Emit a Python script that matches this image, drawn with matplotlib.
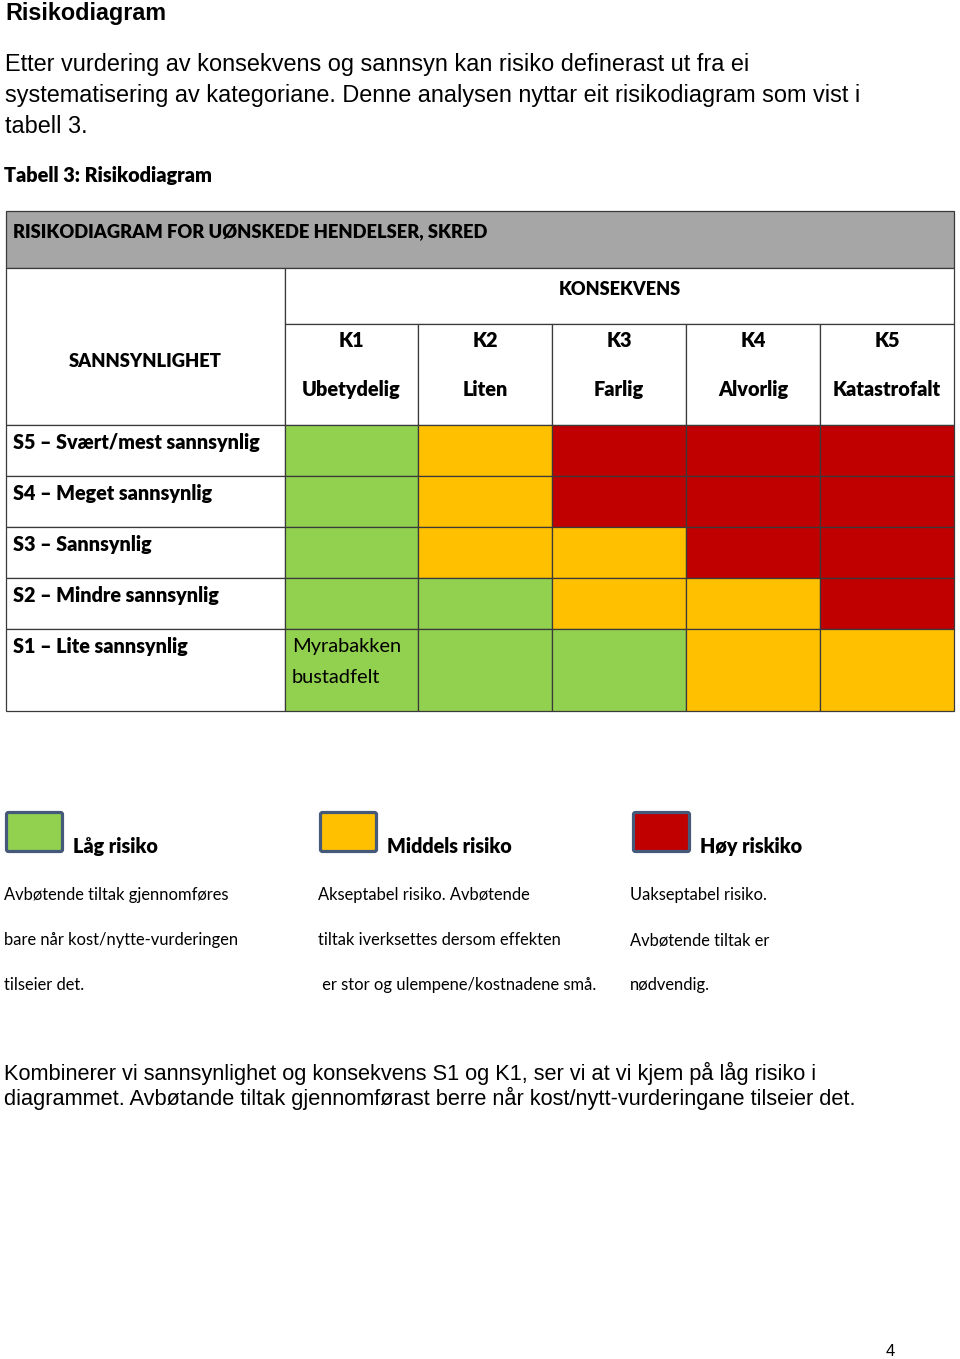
import matplotlib
matplotlib.use("Agg")
import matplotlib.pyplot as plt
from matplotlib.patches import Rectangle, FancyBboxPatch

# ---------------- data ----------------
title = "Risikodiagram"
intro_lines = [
    "Etter vurdering av konsekvens og sannsyn kan risiko definerast ut fra ei",
    "systematisering av kategoriane. Denne analysen nyttar eit risikodiagram som vist i",
    "tabell 3.",
]
table_caption = "Tabell 3: Risikodiagram"
table_header = "RISIKODIAGRAM FOR UØNSKEDE HENDELSER, SKRED"
axis_cons = "KONSEKVENS"
axis_prob = "SANNSYNLIGHET"
cons_codes = ["K1", "K2", "K3", "K4", "K5"]
cons_names = ["Ubetydelig", "Liten", "Farlig", "Alvorlig", "Katastrofalt"]
prob_labels = ["S5 – Svært/mest sannsynlig", "S4 – Meget sannsynlig",
               "S3 – Sannsynlig", "S2 – Mindre sannsynlig", "S1 – Lite sannsynlig"]
# risk level per cell: 0 = låg, 1 = middels, 2 = høy  (rows S5..S1, cols K1..K5)
risk_matrix = [
    [0, 1, 2, 2, 2],
    [0, 1, 2, 2, 2],
    [0, 1, 1, 2, 2],
    [0, 0, 1, 1, 2],
    [0, 0, 0, 1, 1],
]
marked_cell = (4, 0)
marked_text = ["Myrabakken", "bustadfelt"]
level_colors = ["#92d050", "#ffc000", "#c00000"]
legend_titles = ["Låg risiko", "Middels risiko", "Høy riskiko"]
legend_texts = [
    ["Avbøtende tiltak gjennomføres", "bare når kost/nytte-vurderingen", "tilseier det."],
    ["Akseptabel risiko. Avbøtende", "tiltak iverksettes dersom effekten", " er stor og ulempene/kostnadene små."],
    ["Uakseptabel risiko.", "Avbøtende tiltak er", "nødvendig."],
]
outro_lines = [
    "Kombinerer vi sannsynlighet og konsekvens S1 og K1, ser vi at vi kjem på låg risiko i",
    "diagrammet. Avbøtande tiltak gjennomførast berre når kost/nytt-vurderingane tilseier det.",
]
page_number = "4"

# ---------------- layout ----------------
W, H = 960, 1359
fig = plt.figure(figsize=(W / 100, H / 100), dpi=100)
ax = fig.add_axes([0, 0, 1, 1])
ax.set_xlim(0, W)
ax.set_ylim(H, 0)
ax.axis("off")

ARIAL = "Liberation Sans"
CAL = "Lato"
BW = "heavy"
line_c = "#3a3a3a"
lw = 0.9

ax.text(5, 20, title, fontsize=16.8, fontweight="bold", family=ARIAL, va="baseline")
for i, t in enumerate(intro_lines):
    ax.text(5, 71 + 31 * i, t, fontsize=16.9, family=ARIAL, va="baseline")
ax.text(4, 182, table_caption, fontsize=14.3, fontweight=BW, family=CAL, va="baseline")

# table geometry
xl, xr = 6, 954
col_x = [285, 418, 552, 686, 820, 954]
y_head_top, y_head_bot = 211, 268
y_kons_bot = 324
row_y = [425, 476, 527, 578, 629, 711]

ax.add_patch(Rectangle((xl, y_head_top), xr - xl, y_head_bot - y_head_top,
                       facecolor="#a6a6a6", edgecolor=line_c, lw=lw))
ax.text(13, 237, table_header, fontsize=13.2, fontweight=BW, family=CAL, va="baseline")

# white header cells
ax.add_patch(Rectangle((xl, y_head_bot), col_x[0] - xl, row_y[0] - y_head_bot,
                       facecolor="white", edgecolor=line_c, lw=lw))
ax.add_patch(Rectangle((col_x[0], y_head_bot), xr - col_x[0], y_kons_bot - y_head_bot,
                       facecolor="white", edgecolor=line_c, lw=lw))
ax.text((col_x[0] + xr) / 2, 295, axis_cons, fontsize=13.1, fontweight=BW,
        family=CAL, ha="center", va="baseline")
ax.text((xl + col_x[0]) / 2, 367, axis_prob, fontsize=13.2, fontweight=BW,
        family=CAL, ha="center", va="baseline")
for j in range(5):
    x0, x1 = col_x[j], col_x[j + 1]
    ax.add_patch(Rectangle((x0, y_kons_bot), x1 - x0, row_y[0] - y_kons_bot,
                           facecolor="white", edgecolor=line_c, lw=lw))
    ax.text((x0 + x1) / 2, 347, cons_codes[j], fontsize=14.3, fontweight=BW,
            family=CAL, ha="center", va="baseline")
    ax.text((x0 + x1) / 2, 396, cons_names[j], fontsize=14.3, fontweight=BW,
            family=CAL, ha="center", va="baseline")

# body rows
for i in range(5):
    y0, y1 = row_y[i], row_y[i + 1]
    ax.add_patch(Rectangle((xl, y0), col_x[0] - xl, y1 - y0,
                           facecolor="white", edgecolor=line_c, lw=lw))
    ax.text(13, y0 + 24, prob_labels[i], fontsize=14.2, fontweight=BW,
            family=CAL, va="baseline")
    for j in range(5):
        x0, x1 = col_x[j], col_x[j + 1]
        ax.add_patch(Rectangle((x0, y0), x1 - x0, y1 - y0,
                               facecolor=level_colors[risk_matrix[i][j]],
                               edgecolor=line_c, lw=lw))
mi, mj = marked_cell
for k, t in enumerate(marked_text):
    ax.text(col_x[mj] + 7, row_y[mi] + 23 + 31 * k, t, fontsize=14.4,
            family=CAL, va="baseline")

# legend
leg_x = [5, 319, 632]
leg_text_x = [4, 318, 630]
for k in range(3):
    ax.add_patch(FancyBboxPatch((leg_x[k] + 1.5, 812.5), 56, 39,
                                boxstyle="round,pad=0,rounding_size=2",
                                facecolor=level_colors[k], edgecolor="#45597a", lw=2.3))
    ax.text(leg_x[k] + 68, 853, legend_titles[k], fontsize=14.2, fontweight=BW,
            family=CAL, va="baseline")
    for m, t in enumerate(legend_texts[k]):
        ax.text(leg_text_x[k], 900 + 45 * m, t, fontsize=11.9, family=CAL, va="baseline")

for i, t in enumerate(outro_lines):
    ax.text(4, 1080 + 25 * i, t, fontsize=15.65, family=ARIAL, va="baseline")

ax.text(890, 1356, page_number, fontsize=12, family=ARIAL, ha="center", va="baseline")

fig.savefig("out.png", dpi=100)
